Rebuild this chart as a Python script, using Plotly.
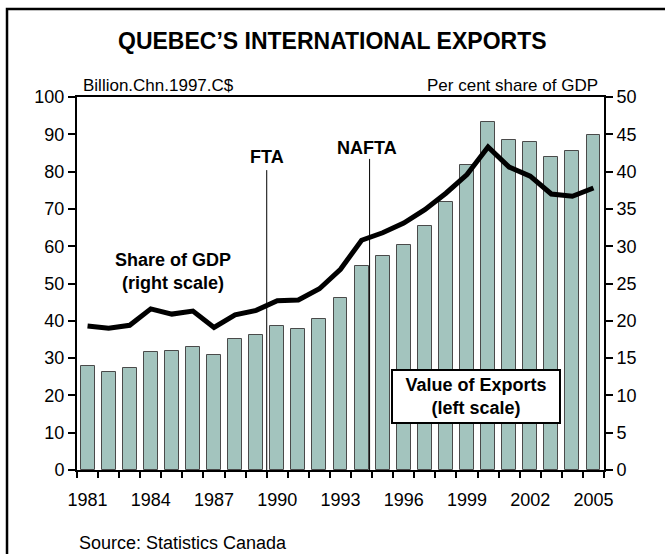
import plotly.graph_objects as go

# ---- data ----
years = list(range(1981, 2006))
export_values = [28.0, 26.4, 27.4, 31.7, 31.8, 32.9, 30.8, 35.1, 36.3, 38.5, 37.8, 40.5,
                 46.1, 54.6, 57.4, 60.2, 65.5, 71.9, 81.9, 93.2, 88.4, 88.0, 83.8, 85.4, 89.7]
gdp_share = [19.3, 19.0, 19.4, 21.6, 20.9, 21.3, 19.1, 20.8, 21.4, 22.7, 22.8, 24.3,
             26.9, 30.8, 31.8, 33.1, 34.9, 37.1, 39.6, 43.3, 40.6, 39.4, 37.0, 36.7, 37.8]
year_tick_labels = [1981, 1984, 1987, 1990, 1993, 1996, 1999, 2002, 2005]
event_names = ["FTA", "NAFTA"]
event_years = [1989.5, 1994.38]
event_line_tops = [80.4, 83.4]
event_label_x = [1989.5, 1994.26]
event_label_y = [83.9, 86.2]

title_text = "QUEBEC\u2019S INTERNATIONAL EXPORTS"
left_title = "Billion.Chn.1997.C$"
right_title = "Per cent share of GDP"
source_text = "Source: Statistics Canada"

FONT = "Liberation Sans, Arial, sans-serif"
BAR_FILL = "#a3c4be"

fig = go.Figure()
fig.add_trace(go.Bar(x=years, y=export_values, width=0.66,
                     marker=dict(color=BAR_FILL, line=dict(color="#4a4a4a", width=1)),
                     yaxis="y", showlegend=False, hoverinfo="skip"))
fig.add_trace(go.Scatter(x=years, y=gdp_share, mode="lines",
                         line=dict(color="black", width=5),
                         yaxis="y2", showlegend=False, hoverinfo="skip"))

boundaries = [y - 0.5 for y in years] + [years[-1] + 0.5]

fig.update_layout(
    width=665, height=554,
    margin=dict(l=77, r=61, t=97, b=84),
    paper_bgcolor="white", plot_bgcolor="white",
    font=dict(family=FONT, color="black", size=18),
    bargap=0,
    xaxis=dict(range=[1980.5, 2005.5], tickmode="array", tickvals=year_tick_labels,
               ticktext=[str(v) for v in year_tick_labels], ticks="",
               ticklabelstandoff=12,
               minor=dict(tickmode="array", tickvals=boundaries, ticks="outside",
                          ticklen=6, tickwidth=2, tickcolor="black", showgrid=False),
               showline=True, linewidth=2, linecolor="black", mirror=True,
               showgrid=False, zeroline=False, tickfont=dict(size=18)),
    yaxis=dict(range=[0, 100], dtick=10, ticks="outside", ticklen=7, tickwidth=2,
               tickcolor="black", showline=True, linewidth=2, linecolor="black",
               showgrid=False, zeroline=False, tickfont=dict(size=18)),
    yaxis2=dict(range=[0, 50], dtick=5, overlaying="y", side="right", ticks="outside",
                ticklen=7, tickwidth=2, tickcolor="black", showline=True, linewidth=2,
                linecolor="black", showgrid=False, zeroline=False, tickfont=dict(size=18)),
)

shapes = [dict(type="rect", xref="paper", yref="paper", x0=-0.1328, x1=1.2,
               y0=-0.4, y1=1.236, line=dict(color="black", width=2.5),
               fillcolor="rgba(0,0,0,0)", layer="below")]
for ex, top in zip(event_years, event_line_tops):
    shapes.append(dict(type="line", xref="x", yref="y", x0=ex, x1=ex, y0=0, y1=top,
                       line=dict(color="black", width=1), layer="below"))
fig.update_layout(shapes=shapes)

ann = [
    dict(text="<b>" + title_text + "</b>", xref="paper", yref="paper", x=0.484, y=1.15,
         xanchor="center", yanchor="middle", showarrow=False, font=dict(size=23)),
    dict(text=left_title, xref="paper", yref="paper", x=0.0076, y=1.032,
         xanchor="left", yanchor="middle", showarrow=False, font=dict(size=17)),
    dict(text=right_title, xref="paper", yref="paper", x=0.9924, y=1.032,
         xanchor="right", yanchor="middle", showarrow=False, font=dict(size=17)),
    dict(text="<b>Share of GDP<br>(right scale)</b>", xref="x", yref="y", x=1985.05, y=53.1,
         xanchor="center", yanchor="middle", showarrow=False, font=dict(size=18)),
    dict(text="<b>Value of Exports<br>(left scale)</b>", xref="x", yref="y", x=1999.43, y=19.7,
         xanchor="center", yanchor="middle", showarrow=False, font=dict(size=18),
         bgcolor="white", bordercolor="black", borderwidth=2, borderpad=2,
         width=162, height=47),
    dict(text=source_text, xref="paper", yref="paper", x=0.0, y=-0.196,
         xanchor="left", yanchor="middle", showarrow=False, font=dict(size=18)),
]
for name, lx, ly in zip(event_names, event_label_x, event_label_y):
    ann.append(dict(text="<b>" + name + "</b>", xref="x", yref="y", x=lx, y=ly,
                    xanchor="center", yanchor="middle", showarrow=False, font=dict(size=18)))
fig.update_layout(annotations=ann)

fig.write_html("out.html", config={"displayModeBar": False},
               post_script="document.body.style.margin='0px';document.body.style.overflow='hidden';")
